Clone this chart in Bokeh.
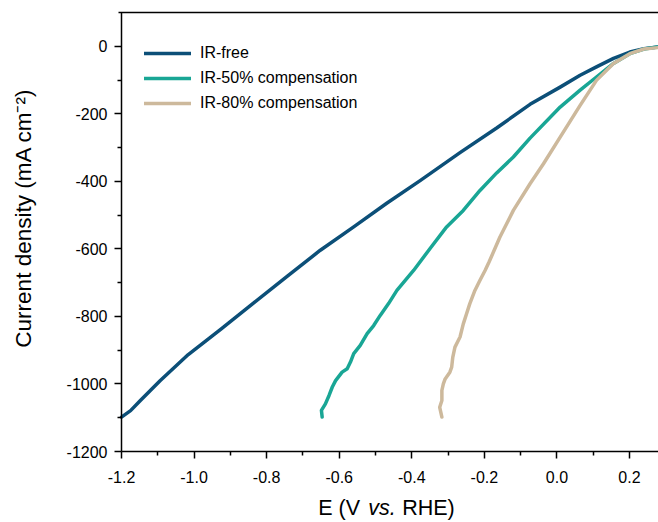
import math
from bokeh.plotting import figure
from bokeh.models import (Range1d, FixedTicker, PrintfTickFormatter, Legend, LegendItem,
                          Label, LinearAxis)
from bokeh.embed import file_html
from bokeh.resources import INLINE

# ---- data ----
ir_free_x = [-1.200, -1.175, -1.148, -1.093, -1.016, -0.925, -0.833, -0.741, -0.652, -0.560,
             -0.469, -0.377, -0.267, -0.166, -0.074, 0.009, 0.064, 0.109, 0.156, 0.201, 0.240, 0.278]
ir_free_y = [-1098, -1079, -1049, -990, -913, -837, -758, -679, -604, -535,
             -465, -398, -315, -242, -172, -121, -86, -61, -36, -17, -7, -2]

ir50_x = [-0.647, -0.649, -0.638, -0.628, -0.619, -0.610, -0.592, -0.578, -0.569, -0.560,
          -0.542, -0.523, -0.505, -0.487, -0.464, -0.441, -0.395, -0.349, -0.304, -0.258,
          -0.212, -0.166, -0.120, -0.074, 0.009, 0.064, 0.109, 0.156, 0.201, 0.240, 0.278]
ir50_y = [-1098, -1078, -1059, -1034, -1009, -990, -965, -955, -935, -910,
          -886, -851, -827, -797, -762, -723, -664, -598, -535, -486,
          -427, -375, -328, -272, -180, -130, -91, -51, -22, -8, -2]

ir80_x = [-0.317, -0.323, -0.317, -0.317, -0.313, -0.308, -0.295, -0.290, -0.287, -0.281,
          -0.267, -0.258, -0.249, -0.240, -0.226, -0.212, -0.198, -0.187, -0.157, -0.120,
          -0.074, -0.037, 0.009, 0.064, 0.109, 0.156, 0.201, 0.240, 0.278]
ir80_y = [-1098, -1069, -1049, -1019, -1000, -985, -965, -950, -921, -891,
          -861, -822, -792, -762, -723, -693, -664, -639, -565, -486,
          -407, -348, -269, -175, -101, -51, -22, -8, -4]

series_names = ["IR-free", "IR-50% compensation", "IR-80% compensation"]
series_colors = ["#0c4f78", "#19a695", "#cdb99c"]

x_major_ticks = [-1.2, -1.0, -0.8, -0.6, -0.4, -0.2, 0.0, 0.2]
x_minor_ticks = [-1.1, -0.9, -0.7, -0.5, -0.3, -0.1, 0.1]
y_major_ticks = [0, -200, -400, -600, -800, -1000, -1200]
y_minor_ticks = [-100, -300, -500, -700, -900, -1100]

x_label_parts = ["E (V", "vs.", "RHE)"]
y_label = "Current density (mA cm\u207b\u00b2)"

# ---- layout (pixels) ----
W, H = 658, 522
PX_LEFT, PX_RIGHT, PX_TOP, PX_BOTTOM = 121, 658, 12, 451
X_LO, X_HI = -1.2, 0.28
Y_LO, Y_HI = -1200, 100

xs = (PX_RIGHT - PX_LEFT) / (X_HI - X_LO)
ys = (PX_BOTTOM - PX_TOP) / (Y_HI - Y_LO)
x_range = Range1d(X_LO - PX_LEFT / xs, X_HI + (W - PX_RIGHT) / xs)
y_range = Range1d(Y_LO - (H - PX_BOTTOM) / ys, Y_HI + PX_TOP / ys)

FONT = "Liberation Sans"

p = figure(width=W, height=H, output_backend="svg", toolbar_location=None,
           x_range=x_range, y_range=y_range,
           min_border_left=0, min_border_right=0, min_border_top=0, min_border_bottom=0)

p.outline_line_color = None
p.xgrid.visible = False
p.ygrid.visible = False
p.background_fill_color = "white"
p.border_fill_color = "white"

xa = p.xaxis[0]
ya = p.yaxis[0]
xa.fixed_location = Y_LO
ya.fixed_location = X_LO
xa.bounds = (X_LO, X_HI)
ya.bounds = (Y_LO, Y_HI)
xa.ticker = FixedTicker(ticks=x_major_ticks, minor_ticks=x_minor_ticks)
ya.ticker = FixedTicker(ticks=y_major_ticks, minor_ticks=y_minor_ticks)
xa.formatter = PrintfTickFormatter(format="%.1f")
ya.formatter = PrintfTickFormatter(format="%d")

for ax in (xa, ya):
    ax.axis_line_color = "black"
    ax.axis_line_width = 1.5
    ax.major_tick_line_color = "black"
    ax.major_tick_line_width = 1.5
    ax.minor_tick_line_color = "black"
    ax.minor_tick_line_width = 1.5
    ax.major_tick_out = 7
    ax.major_tick_in = 0
    ax.minor_tick_out = 4
    ax.minor_tick_in = 0
    ax.major_label_text_font = FONT
    ax.major_label_text_font_size = "16px"
    ax.major_label_text_color = "black"
xa.major_label_standoff = 12
ya.major_label_standoff = 7

top_axis = LinearAxis(fixed_location=Y_HI, bounds=(X_LO - 0.008, X_HI),
                      ticker=FixedTicker(ticks=[]), axis_line_color="black", axis_line_width=1.3,
                      major_tick_line_color=None, minor_tick_line_color=None)
p.add_layout(top_axis, "above")

renderers = []
for xv, yv, col in [(ir_free_x, ir_free_y, series_colors[0]),
                    (ir50_x, ir50_y, series_colors[1]),
                    (ir80_x, ir80_y, series_colors[2])]:
    r = p.line(xv, yv, line_color=col, line_width=3.5, line_join="round", line_cap="round")
    renderers.append(r)

legend = Legend(items=[LegendItem(label=n, renderers=[r]) for n, r in zip(series_names, renderers)],
                location=(144, H - 113), glyph_width=47, glyph_height=20, label_height=20,
                spacing=5, padding=0, margin=0, border_line_color=None,
                background_fill_alpha=0, label_standoff=9,
                label_text_font=FONT, label_text_font_size="16px", label_text_color="black")
p.add_layout(legend)

# x-axis title with italic "vs."
for txt, style, xpos in zip(x_label_parts, ["normal", "italic", "normal"], [317.7, 367.7, 401.7]):
    p.add_layout(Label(x=xpos, y=H - 507.5, x_units="screen", y_units="screen", text=txt,
                       text_font=FONT, text_font_size="21.5px", text_font_style=style,
                       text_baseline="middle", text_align="left", text_color="black"))

p.add_layout(Label(x=23, y=H - 217.5, x_units="screen", y_units="screen",
                   text=y_label, angle=math.pi / 2,
                   text_font=FONT, text_font_size="22.5px", text_align="center",
                   text_baseline="middle", text_color="black"))

open("out.html", "w").write(file_html(p, INLINE))
